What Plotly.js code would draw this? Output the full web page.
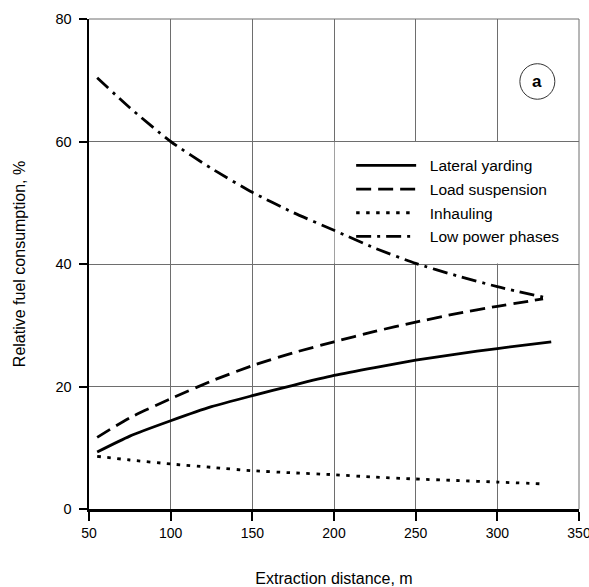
<!DOCTYPE html>
<html>
<head>
<meta charset="utf-8">
<script src="https://cdn.plot.ly/plotly-3.0.1.min.js"></script>
<style>
  html, body { margin: 0; padding: 0; background: #ffffff; }
  #chart { width: 589px; height: 587px; }
</style>
</head>
<body>
<div id="chart"></div>
<script>
// Extraction distance (m) at which each curve was sampled
const distance = [55, 75, 100, 125, 150, 175, 200, 225, 250, 275, 300, 328];
const distanceLateral = [55, 75, 100, 125, 150, 175, 200, 225, 250, 275, 300, 333];

// Relative fuel consumption per work phase, %
const lateralYarding = [9.3, 11.9, 14.4, 16.7, 18.5, 20.2, 21.8, 23.1, 24.3, 25.3, 26.2, 27.3];
const loadSuspension = [11.7, 14.9, 18.0, 20.9, 23.4, 25.5, 27.3, 29.0, 30.5, 31.9, 33.1, 34.3];
const inhauling      = [8.6, 8.0, 7.35, 6.8, 6.25, 5.9, 5.6, 5.2, 4.9, 4.65, 4.4, 4.1];
const lowPower       = [70.4, 65.5, 60.0, 55.6, 51.7, 48.4, 45.5, 42.6, 40.1, 38.1, 36.3, 34.6];

const seriesNames = ["Lateral yarding", "Load suspension", "Inhauling", "Low power phases"];
const xTicks = [50, 100, 150, 200, 250, 300, 350];
const yTicks = [0, 20, 40, 60, 80];

const FONT = "Liberation Sans, Arial, sans-serif";

function curve(x, y, name, dash, group) {
  return {
    type: "scatter", mode: "lines", x: x, y: y,
    name: "&nbsp;&nbsp;" + name, legendgroup: group,
    line: { color: "#000000", width: 2.8, dash: dash, shape: "spline", smoothing: 0.6 }
  };
}

const traces = [
  curve(distanceLateral, lateralYarding, seriesNames[0], "solid", "g1"),
  curve(distance, loadSuspension, seriesNames[1], "15px,7px", "g2"),
  curve(distance, inhauling, seriesNames[2], "3.5px,6.5px", "g3"),
  curve(distance, lowPower, seriesNames[3], "15px,6px,3px,6px", "g4")
];

const layout = {
  width: 589, height: 587,
  margin: { l: 89, r: 10, t: 19, b: 78 },
  paper_bgcolor: "#ffffff", plot_bgcolor: "#ffffff",
  font: { family: FONT, size: 15.5, color: "#000000" },
  showlegend: true,
  legend: {
    x: 0.535, y: 0.735, xanchor: "left", yanchor: "top",
    bgcolor: "rgba(0,0,0,0)", borderwidth: 0,
    font: { family: FONT, size: 15.5, color: "#000000" },
    itemwidth: 60, tracegroupgap: 0.5
  },
  xaxis: {
    range: [50, 350], tickvals: xTicks, ticktext: xTicks.map(String),
    showgrid: true, gridcolor: "#6e6e6e", gridwidth: 1,
    showline: true, linecolor: "#000000", linewidth: 2.5,
    ticks: "outside", ticklen: 9, tickwidth: 2, tickcolor: "#000000",
    ticklabeloverflow: "allow", ticklabelstandoff: 1,
    zeroline: false, fixedrange: true,
    tickfont: { family: FONT, size: 14, color: "#000000" },
    title: { text: "Extraction distance, m", font: { family: FONT, size: 16, color: "#000000" }, standoff: 33 }
  },
  yaxis: {
    range: [0, 80], tickvals: yTicks, ticktext: yTicks.map(String),
    showgrid: true, gridcolor: "#6e6e6e", gridwidth: 1,
    showline: true, linecolor: "#000000", linewidth: 2.5,
    ticks: "outside", ticklen: 8, tickwidth: 2, tickcolor: "#000000",
    ticklabelstandoff: 4,
    zeroline: false, fixedrange: true,
    tickfont: { family: FONT, size: 14.5, color: "#000000" },
    title: { text: "Relative fuel consumption, %", font: { family: FONT, size: 16, color: "#000000" }, standoff: 26 }
  },
  shapes: [
    // clear panel behind the legend
    { type: "rect", xref: "x", yref: "y", x0: 200.4, x1: 350, y0: 40.1, y1: 59.9,
      fillcolor: "#ffffff", line: { width: 0 }, layer: "between" },
    // thin frame on top and right
    { type: "line", xref: "paper", yref: "paper", x0: 0, x1: 1, y0: 1, y1: 1,
      line: { color: "#6e6e6e", width: 1 } },
    { type: "line", xref: "paper", yref: "paper", x0: 1, x1: 1, y0: 0, y1: 1,
      line: { color: "#6e6e6e", width: 1 } },
    // panel marker circle
    { type: "circle", xref: "x", yref: "y", x0: 313.8, x1: 335.2, y0: 66.9, y1: 72.7,
      line: { color: "#333333", width: 1 }, fillcolor: "rgba(0,0,0,0)" }
  ],
  annotations: [
    { xref: "x", yref: "y", x: 324.5, y: 69.8, text: "<b>a</b>", showarrow: false,
      font: { family: FONT, size: 17, color: "#000000" }, xanchor: "center", yanchor: "middle" }
  ]
};

Plotly.newPlot("chart", traces, layout, { displayModeBar: false, staticPlot: true });
</script>
</body>
</html>
